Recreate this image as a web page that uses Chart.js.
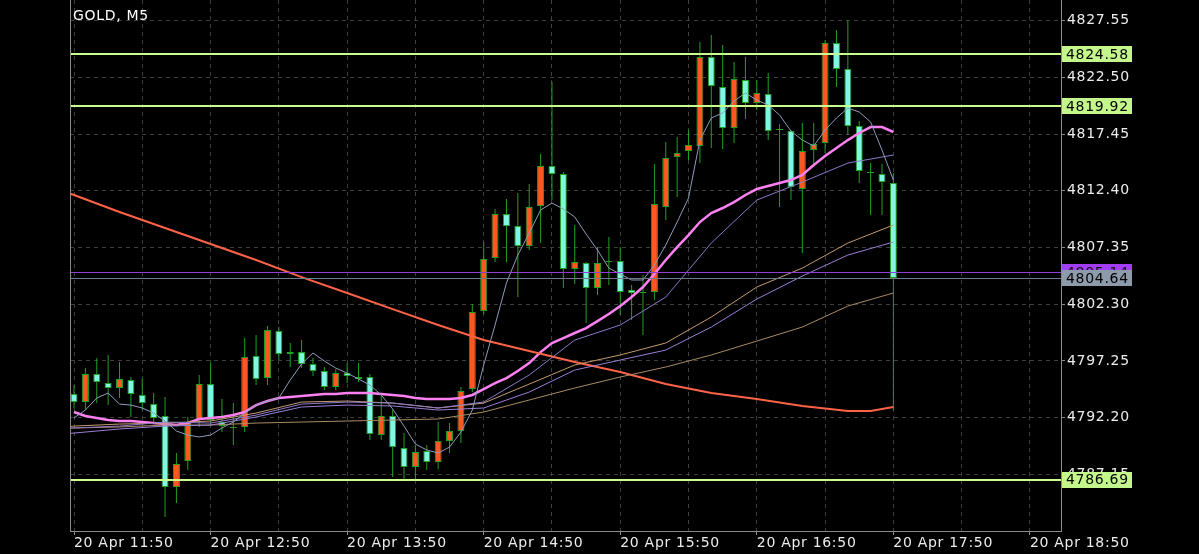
<!DOCTYPE html>
<html><head><meta charset="utf-8">
<script src="https://cdn.jsdelivr.net/npm/chart.js@4/dist/chart.umd.min.js"></script>
<style>html,body{margin:0;padding:0;background:#000;overflow:hidden}canvas{display:block}</style>
</head><body>
<canvas id="c" width="1199" height="554"></canvas>
<script>
const symbolTitle = 'GOLD, M5';
const openP = [4794.30,4793.59,4796.09,4795.28,4794.84,4795.55,4794.22,4793.41,4792.35,4786.02,
4788.34,4791.99,4795.19,4791.81,4791.37,4791.37,4797.69,4795.73,4799.91,4797.87,
4798.04,4796.98,4796.35,4794.93,4796.17,4795.82,4795.82,4790.65,4792.35,4789.50,
4787.80,4789.23,4788.25,4790.12,4791.01,4794.75,4801.70,4806.42,4810.33,4809.26,
4807.48,4811.05,4814.61,4813.90,4805.44,4805.97,4803.74,4806.06,4806.15,4803.57,
4803.39,4803.39,4810.96,4815.41,4815.94,4816.39,4824.31,4821.64,4817.99,4822.27,
4820.22,4821.02,4817.90,4817.72,4812.56,4816.03,4816.66,4825.56,4823.25,4818.17,
4814.07,4813.90,4813.09];
const highP = [4795.11,4796.62,4797.51,4797.78,4797.15,4795.82,4795.64,4794.39,4794.04,4789.05,
4792.26,4796.00,4797.06,4793.86,4793.50,4799.29,4799.56,4800.36,4800.27,4798.85,
4799.11,4797.51,4796.71,4796.53,4797.06,4797.06,4796.09,4794.13,4792.88,4790.83,
4789.76,4789.76,4791.81,4791.72,4794.93,4802.32,4807.84,4810.78,4811.67,4812.20,
4813.00,4815.68,4822.09,4814.07,4809.35,4806.06,4807.39,4808.29,4807.39,4804.01,
4804.90,4814.79,4816.74,4817.19,4817.81,4825.65,4826.27,4825.38,4823.87,4824.31,
4822.27,4822.89,4818.35,4817.81,4818.44,4818.44,4825.83,4826.72,4827.61,4818.62,
4814.87,4814.79,4813.98];
const lowP = [4793.06,4792.88,4793.50,4793.32,4793.95,4792.26,4792.88,4791.81,4783.35,4784.60,
4787.54,4791.37,4791.54,4790.92,4789.76,4790.92,4795.11,4795.11,4797.33,4796.71,
4796.62,4795.91,4794.66,4794.66,4795.28,4795.37,4790.21,4790.21,4786.91,4786.70,
4786.74,4787.54,4787.63,4789.05,4789.94,4794.48,4801.43,4806.06,4806.06,4802.94,
4807.13,4807.75,4811.58,4803.74,4804.10,4800.63,4803.12,4804.01,4801.34,4800.89,
4799.56,4802.67,4809.80,4811.85,4815.14,4814.87,4816.21,4816.12,4816.66,4818.79,
4819.59,4816.92,4810.96,4811.58,4806.86,4814.52,4815.77,4821.64,4817.37,4813.09,
4810.24,4810.24,4792.88];
const closeP = [4793.59,4796.09,4795.37,4794.84,4795.64,4794.30,4793.50,4792.17,4786.02,4788.07,
4791.72,4795.19,4791.99,4791.45,4791.28,4797.60,4795.64,4800.00,4797.87,4798.04,
4796.98,4796.35,4794.93,4796.17,4795.91,4795.64,4790.74,4792.35,4789.58,4787.80,
4789.14,4788.25,4790.12,4791.01,4794.57,4801.61,4806.33,4810.33,4809.26,4807.48,
4810.96,4814.61,4813.90,4805.44,4806.06,4803.74,4805.97,4806.15,4803.39,4803.30,
4803.30,4811.22,4815.32,4815.77,4816.48,4824.31,4821.73,4817.99,4822.36,4820.22,
4821.11,4817.72,4817.81,4812.74,4815.94,4816.57,4825.56,4823.25,4818.17,4814.16,
4813.98,4813.18,4804.64];

const fastMA = [4792.17,4792.88,4793.95,4794.39,4793.41,4793.32,4793.06,4792.61,4791.90,4791.01,
4790.65,4790.48,4790.65,4791.28,4791.81,4792.61,4793.32,4793.68,4793.95,4795.55,
4796.98,4797.96,4797.24,4796.62,4796.17,4795.64,4795.11,4794.22,4792.97,4791.45,
4789.85,4789.32,4789.05,4789.58,4790.92,4792.88,4796.89,4800.45,4804.19,4806.68,
4808.64,4810.69,4811.31,4810.78,4810.07,4808.55,4807.13,4805.52,4804.99,4804.46,
4804.46,4805.79,4807.57,4809.62,4811.76,4816.92,4818.88,4819.33,4820.40,4821.11,
4820.48,4820.04,4819.15,4817.72,4816.92,4816.39,4817.81,4818.88,4819.77,4819.42,
4818.53,4816.03,4813.36];
const pinkMA = [4792.70,4792.35,4792.17,4791.99,4791.90,4791.90,4791.81,4791.72,4791.63,4791.54,
4791.72,4792.08,4792.17,4792.26,4792.43,4792.70,4793.32,4793.68,4793.95,4794.04,
4794.13,4794.22,4794.30,4794.30,4794.39,4794.39,4794.39,4794.30,4794.22,4794.13,
4793.95,4793.86,4793.86,4793.86,4793.95,4794.22,4794.75,4795.28,4795.73,4796.35,
4797.06,4798.04,4798.85,4799.29,4799.74,4800.18,4800.80,4801.43,4802.14,4802.94,
4803.83,4804.99,4806.24,4807.39,4808.46,4809.62,4810.42,4810.87,4811.40,4812.03,
4812.56,4812.83,4813.09,4813.36,4813.81,4814.70,4815.50,4816.21,4816.92,4817.55,
4818.08,4818.08,4817.64];

const slowIdx = [-1,0,4,8,12,16,20,24,28,32,36,40,44,48,52,56,60,64,68,72];
const purpleA = [4791.19,4791.28,4791.45,4791.81,4791.72,4792.43,4793.41,4793.59,4793.50,4793.06,4793.59,4796.00,4799.11,4800.45,4802.94,4807.75,4811.58,4813.18,4814.87,4815.59];
const tanA = [4791.37,4791.45,4791.63,4791.72,4791.90,4792.61,4793.59,4793.68,4793.50,4793.06,4793.50,4795.19,4796.89,4797.78,4798.85,4801.16,4803.83,4805.52,4807.75,4809.35];
const purpleB = [4790.74,4790.83,4791.19,4791.45,4791.54,4792.26,4793.15,4793.32,4793.24,4792.88,4793.06,4794.48,4796.44,4797.33,4798.22,4800.27,4802.76,4804.81,4806.68,4807.84];
const tanB = [4791.28,4791.28,4791.37,4791.54,4791.54,4791.72,4791.81,4791.90,4791.99,4792.08,4792.70,4793.77,4794.84,4795.82,4796.71,4797.78,4799.02,4800.27,4802.14,4803.30];
const redIdx = [-1,0,4,8,12,16,20,24,28,32,36,40,44,48,52,56,60,64,68,70,72];
const redMA = [4812.38,4812.03,4810.51,4809.09,4807.66,4806.24,4804.72,4803.30,4801.87,4800.45,4799.11,4798.13,4797.15,4796.26,4795.19,4794.39,4793.86,4793.24,4792.79,4792.79,4793.15];

const yTicks = [4787.15,4792.20,4797.25,4802.30,4807.35,4812.40,4817.45,4822.50,4827.55];
const xTickLabels = ['20 Apr 11:50','20 Apr 12:50','20 Apr 13:50','20 Apr 14:50','20 Apr 15:50','20 Apr 16:50','20 Apr 17:50','20 Apr 18:50'];
const levelValues = [4824.58, 4819.92, 4786.69];
const markerPrice = 4805.14;
const lastPrice = 4804.64;

const BARS_PER_LABEL = 12;
const X_MIN = -0.3515, X_MAX = 86.73;
const Y_MIN = 4782.107, Y_MAX = 4829.393;

const UP = '#ff5722', DN = '#7ff7e1', WICK = '#22a022';
const idx = openP.map((_, i) => i);
const bodyData = idx.map(i => ({x: i, y: [openP[i], closeP[i]]}));
const wickData = idx.map(i => ({x: i, y: [lowP[i], highP[i]]}));
const bodyColors = idx.map(i => closeP[i] >= openP[i] ? UP : DN);
const perBar = arr => arr.map((v, i) => ({x: i, y: v}));
const sampled = (xs, arr) => arr.map((v, i) => ({x: xs[i], y: v}));

const lineDs = (label, data, color, width) => ({
  type: 'line', label, data, borderColor: color, borderWidth: width,
  pointRadius: 0, fill: false, tension: 0, order: 0
});

Chart.defaults.font.family = "'DejaVu Sans', sans-serif";
Chart.defaults.font.size = 14;
Chart.defaults.color = '#ececec';

const overlay = {
  id: 'overlay',
  beforeDraw(chart) {
    const c = chart.ctx;
    c.save(); c.fillStyle = '#000'; c.fillRect(0, 0, chart.width, chart.height); c.restore();
    c.letterSpacing = '0.7px';
  },
  afterDatasetsDraw(chart) {
    const {ctx, chartArea: a, scales: {y}} = chart;
    ctx.save();
    ctx.beginPath(); ctx.rect(a.left, a.top, a.right - a.left, a.bottom - a.top); ctx.clip();
    const hl = (v, color, w) => {
      const py = Math.round(y.getPixelForValue(v)) + (w % 2 ? 0.5 : 0);
      ctx.strokeStyle = color; ctx.lineWidth = w;
      ctx.beginPath(); ctx.moveTo(a.left, py); ctx.lineTo(a.right, py); ctx.stroke();
    };
    hl(markerPrice, '#8f3fd6', 1);
    hl(lastPrice, '#6e7c8a', 1);
    levelValues.forEach(v => hl(v, '#c8ff8c', 2));
    ctx.restore();
    ctx.save();
    ctx.strokeStyle = '#8a8a8a'; ctx.lineWidth = 1;
    ctx.beginPath(); ctx.moveTo(a.left + 0.5, a.top); ctx.lineTo(a.left + 0.5, a.bottom); ctx.stroke();
    ctx.restore();
  },
  afterDraw(chart) {
    const {ctx, chartArea: a, scales: {y}} = chart;
    ctx.save();
    ctx.font = "14px 'DejaVu Sans', sans-serif";
    ctx.textBaseline = 'middle';
    ctx.textAlign = 'left';
    const box = (v, bg, fg) => {
      const py = y.getPixelForValue(v);
      ctx.fillStyle = bg;
      ctx.fillRect(a.right + 1, Math.round(py) - 8, 70, 16);
      ctx.fillStyle = fg;
      ctx.fillText(v.toFixed(2), a.right + 5, py + 1);
    };
    box(markerPrice, '#a33df5', '#101010');
    box(lastPrice, '#8d9bab', '#000');
    levelValues.forEach(v => box(v, '#c3f78c', '#000'));
    ctx.fillStyle = '#ffffff';
    ctx.textBaseline = 'alphabetic';
    ctx.fillText(symbolTitle, a.left + 3, 20);
    ctx.restore();
  }
};

new Chart(document.getElementById('c'), {
  type: 'bar',
  data: {
    datasets: [
      lineDs('MA fast', perBar(fastMA), '#8d9bbd', 1),
      lineDs('MA 2', sampled(slowIdx, purpleA), '#8d78c8', 1),
      lineDs('MA 3', sampled(slowIdx, tanA), '#c49a6c', 1),
      lineDs('MA 4', sampled(slowIdx, purpleB), '#9a7fd6', 1),
      lineDs('MA 5', sampled(slowIdx, tanB), '#a98a62', 1),
      lineDs('MA 200', sampled(redIdx, redMA), '#ff6347', 2),
      lineDs('MA pink', perBar(pinkMA), '#ff80f2', 2.5),
      {
        type: 'bar', label: 'body', data: bodyData, backgroundColor: bodyColors,
        borderColor: WICK, borderWidth: 1, borderSkipped: false, inflateAmount: 0,
        barThickness: 7, grouped: false, minBarLength: 1, order: 1
      },
      {
        type: 'bar', label: 'wick', data: wickData, backgroundColor: WICK,
        borderWidth: 0, barThickness: 1, grouped: false, inflateAmount: 0, order: 2
      }
    ]
  },
  options: {
    responsive: false, animation: false, devicePixelRatio: 1,
    layout: {padding: {left: 70, right: 0, top: 0, bottom: 0}},
    plugins: {legend: {display: false}, tooltip: {enabled: false}, title: {display: false}},
    scales: {
      x: {
        type: 'linear', min: X_MIN, max: X_MAX, offset: false,
        grid: {
          color: '#3e3e3e', offset: false, tickLength: 4,
          tickColor: c => (c.tick && c.tick.value % BARS_PER_LABEL === 0) ? '#8a8a8a' : 'rgba(0,0,0,0)'
        },
        border: {color: '#8a8a8a', dash: [4, 4]},
        ticks: {
          autoSkip: false, maxRotation: 0, minRotation: 0, align: 'start', padding: 0,
          callback: v => v % BARS_PER_LABEL === 0 ? (xTickLabels[v / BARS_PER_LABEL] || '') : ''
        },
        afterBuildTicks: s => {
          const t = [];
          xTickLabels.forEach((_, k) => {
            t.push(k * BARS_PER_LABEL);
            if (k * BARS_PER_LABEL + BARS_PER_LABEL / 2 <= X_MAX) t.push(k * BARS_PER_LABEL + BARS_PER_LABEL / 2);
          });
          s.ticks = t.map(v => ({value: v}));
        },
        afterFit: s => { s.height = 23; s.paddingLeft = 0; s.paddingRight = 0; }
      },
      y: {
        type: 'linear', position: 'right', min: Y_MIN, max: Y_MAX,
        grid: {color: '#3e3e3e', tickLength: 4, tickColor: '#8a8a8a'},
        border: {color: '#8a8a8a', dash: [4, 4]},
        ticks: {padding: 2, callback: v => Number(v).toFixed(2)},
        afterBuildTicks: s => { s.ticks = yTicks.map(v => ({value: v})); },
        afterFit: s => { s.width = 138; s.paddingTop = 0; s.paddingBottom = 0; }
      }
    }
  },
  plugins: [overlay]
});
</script>
</body></html>
